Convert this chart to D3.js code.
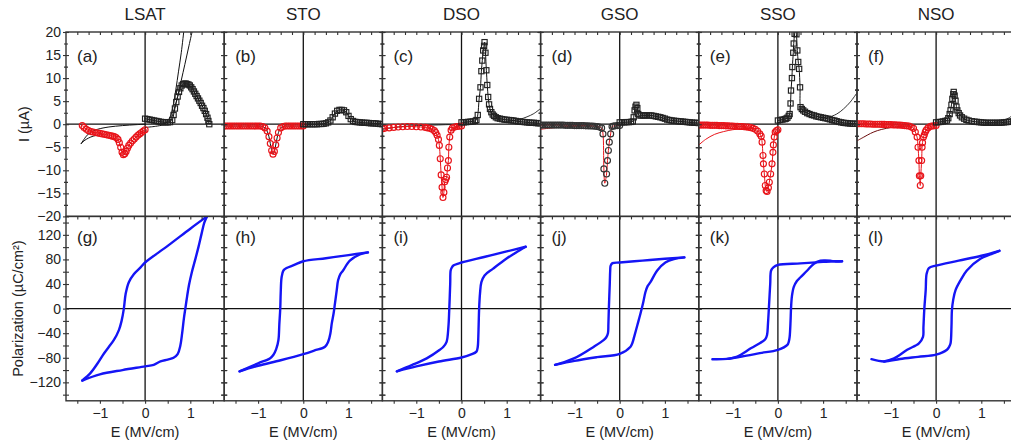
<!DOCTYPE html>
<html>
<head>
<meta charset="utf-8">
<script src="https://cdn.jsdelivr.net/npm/d3@7"></script>
<style>
  body { margin: 0; background: #fff; }
  svg { display: block; }
  text { font-family: "Liberation Sans", Arial, Helvetica, sans-serif; fill: #222; }
</style>
</head>
<body>
<svg id="fig" width="1011" height="448"></svg>
<script>
// ---------- labels and ticks ----------
const materials = ["LSAT", "STO", "DSO", "GSO", "SSO", "NSO"];
const currentPanelLabels = ["(a)", "(b)", "(c)", "(d)", "(e)", "(f)"];
const loopPanelLabels = ["(g)", "(h)", "(i)", "(j)", "(k)", "(l)"];
const eTickLabels = [-1, 0, 1];
const iTickLabels = [-20, -15, -10, -5, 0, 5, 10, 15, 20];
const pTickLabels = [-120, -80, -40, 0, 40, 80, 120];

// ---------- switching current, I (uA) vs E (MV/cm) ----------
// positive sweep (squares)
const lsatPos = [[0,1.2],[0.05,1.1],[0.1,1.0],[0.15,0.9],[0.2,0.8],[0.25,0.7],[0.3,0.6],[0.35,0.5],[0.4,0.45],[0.45,0.4],[0.5,0.4],[0.55,0.45],[0.6,0.9],[0.63,2.0],[0.66,3.4],[0.69,4.8],[0.72,6.0],[0.75,7.0],[0.78,7.8],[0.81,8.4],[0.84,8.7],[0.87,8.8],[0.9,8.8],[0.93,8.7],[0.96,8.6],[0.99,8.4],[1.02,8.0],[1.05,7.6],[1.08,7.1],[1.11,6.6],[1.14,6.1],[1.17,5.6],[1.2,5.1],[1.23,4.6],[1.26,4.0],[1.29,3.5],[1.32,2.9],[1.35,2.2],[1.38,1.4],[1.4,0.7],[1.42,0]];
const stoPos = [[0,0],[0.05,0],[0.1,0],[0.15,0],[0.2,0],[0.25,0],[0.3,0],[0.35,0.05],[0.4,0.05],[0.45,0.1],[0.5,0.2],[0.55,0.4],[0.6,0.8],[0.65,1.5],[0.7,2.3],[0.75,2.9],[0.8,3.1],[0.85,3.1],[0.9,3.0],[0.95,2.6],[1.0,1.8],[1.05,1.1],[1.1,0.7],[1.15,0.5],[1.2,0.45],[1.25,0.4],[1.3,0.35],[1.35,0.3],[1.4,0.3],[1.45,0.25],[1.5,0.2],[1.55,0.2],[1.6,0.15],[1.65,0.1],[1.7,0.05],[1.75,0]];
const dsoPos = [[0,0.4],[0.05,0.4],[0.1,0.45],[0.15,0.5],[0.2,0.55],[0.25,0.6],[0.3,0.7],[0.33,0.9],[0.36,2.0],[0.39,5.5],[0.42,8.0],[0.44,11.5],[0.46,13.8],[0.48,16.0],[0.5,17.0],[0.51,17.8],[0.53,15.5],[0.55,11.7],[0.57,8.5],[0.59,5.9],[0.61,4.3],[0.63,3.3],[0.66,2.6],[0.69,2.1],[0.72,1.8],[0.76,1.5],[0.8,1.3],[0.85,1.2],[0.9,1.1],[0.95,1.0],[1.0,0.95],[1.05,0.9],[1.1,0.85],[1.15,0.8],[1.2,0.7],[1.25,0.6],[1.3,0.55],[1.35,0.5],[1.4,0.45],[1.45,0.4],[1.5,0.35],[1.55,0.3],[1.6,0.3],[1.65,0.25],[1.7,0.2],[1.75,0.2]];
const gsoPos = [[0,0.4],[0.05,0.4],[0.1,0.4],[0.15,0.45],[0.2,0.45],[0.25,0.5],[0.29,0.6],[0.31,1.5],[0.33,3.0],[0.35,3.8],[0.37,4.2],[0.39,3.5],[0.41,2.2],[0.44,1.9],[0.48,1.9],[0.52,1.9],[0.56,1.9],[0.6,1.9],[0.65,1.9],[0.7,1.9],[0.75,1.8],[0.8,1.7],[0.85,1.6],[0.9,1.5],[0.95,1.35],[1.0,1.2],[1.05,1.0],[1.1,0.9],[1.15,0.8],[1.2,0.75],[1.25,0.7],[1.3,0.65],[1.35,0.6],[1.4,0.55],[1.45,0.5],[1.5,0.45],[1.55,0.4],[1.6,0.35],[1.65,0.3],[1.7,0.3],[1.75,0.25]];
const ssoPos = [[0,0.8],[0.05,0.9],[0.1,1.0],[0.15,1.1],[0.18,1.2],[0.21,1.4],[0.24,1.8],[0.26,2.2],[0.28,4.5],[0.29,7.3],[0.31,10.0],[0.32,12.4],[0.34,15.5],[0.35,17.5],[0.37,19.6],[0.39,21.0],[0.41,19.5],[0.43,16.0],[0.45,13.5],[0.47,12.0],[0.49,8.0],[0.5,3.7],[0.53,3.3],[0.56,3.0],[0.6,2.7],[0.65,2.4],[0.7,2.2],[0.75,2.0],[0.8,1.9],[0.85,1.7],[0.9,1.6],[0.95,1.5],[1.0,1.4],[1.05,1.3],[1.1,1.2],[1.15,1.05],[1.2,0.9],[1.25,0.8],[1.3,0.65],[1.35,0.5],[1.4,0.4],[1.45,0.3],[1.5,0.25],[1.55,0.2],[1.6,0.15],[1.65,0.1],[1.7,0.1],[1.75,0.1]];
const nsoPos = [[0,0.4],[0.05,0.45],[0.1,0.5],[0.15,0.6],[0.2,0.7],[0.24,0.8],[0.27,1.3],[0.3,2.2],[0.32,3.0],[0.34,4.2],[0.36,5.5],[0.38,6.5],[0.39,7.0],[0.41,6.2],[0.43,5.1],[0.45,3.8],[0.47,3.0],[0.5,2.4],[0.53,1.9],[0.57,1.5],[0.62,1.2],[0.67,0.95],[0.72,0.8],[0.79,0.65],[0.85,0.55],[0.9,0.5],[0.95,0.45],[1.0,0.4],[1.05,0.35],[1.1,0.3],[1.15,0.3],[1.2,0.3],[1.25,0.3],[1.3,0.3],[1.35,0.3],[1.4,0.3],[1.45,0.35],[1.5,0.4],[1.55,0.45],[1.6,0.5],[1.65,0.55],[1.7,0.6],[1.75,0.6]];

// negative sweep (circles)
const lsatNeg = [[0,-1.2],[-0.04,-1.5],[-0.08,-1.8],[-0.12,-2.1],[-0.16,-2.4],[-0.2,-2.8],[-0.24,-3.2],[-0.28,-3.6],[-0.32,-4.1],[-0.36,-4.6],[-0.39,-5.2],[-0.42,-5.9],[-0.45,-6.4],[-0.48,-6.6],[-0.51,-6.1],[-0.54,-5.0],[-0.57,-4.0],[-0.6,-3.3],[-0.64,-2.9],[-0.68,-2.7],[-0.72,-2.6],[-0.76,-2.5],[-0.8,-2.4],[-0.85,-2.3],[-0.9,-2.2],[-0.95,-2.1],[-1.0,-2.0],[-1.05,-1.9],[-1.1,-1.8],[-1.15,-1.7],[-1.2,-1.6],[-1.25,-1.4],[-1.3,-1.1],[-1.35,-0.7],[-1.39,-0.3]];
const stoNeg = [[0,-0.4],[-0.05,-0.4],[-0.1,-0.4],[-0.15,-0.4],[-0.2,-0.4],[-0.25,-0.4],[-0.3,-0.4],[-0.35,-0.4],[-0.4,-0.4],[-0.45,-0.5],[-0.5,-0.8],[-0.55,-1.8],[-0.58,-3.0],[-0.61,-4.5],[-0.64,-5.9],[-0.67,-6.5],[-0.7,-5.7],[-0.73,-4.2],[-0.76,-2.7],[-0.8,-1.5],[-0.85,-0.8],[-0.9,-0.5],[-0.95,-0.4],[-1.0,-0.4],[-1.05,-0.4],[-1.1,-0.4],[-1.15,-0.4],[-1.2,-0.4],[-1.25,-0.4],[-1.3,-0.4],[-1.35,-0.4],[-1.4,-0.4],[-1.45,-0.4],[-1.5,-0.4],[-1.55,-0.4],[-1.6,-0.4],[-1.65,-0.4],[-1.7,-0.4],[-1.75,-0.4]];
const dsoNeg = [[0,-0.4],[-0.05,-0.45],[-0.1,-0.5],[-0.15,-0.6],[-0.2,-0.8],[-0.23,-1.3],[-0.26,-2.8],[-0.28,-5.0],[-0.29,-7.9],[-0.31,-9.5],[-0.33,-11.5],[-0.35,-12.0],[-0.37,-12.5],[-0.39,-14.8],[-0.41,-15.9],[-0.43,-13.7],[-0.45,-11.0],[-0.47,-7.5],[-0.49,-4.6],[-0.51,-3.3],[-0.54,-2.4],[-0.57,-1.8],[-0.6,-1.4],[-0.65,-1.1],[-0.7,-0.9],[-0.75,-0.8],[-0.8,-0.7],[-0.9,-0.6],[-1.0,-0.55],[-1.1,-0.5],[-1.2,-0.5],[-1.3,-0.55],[-1.4,-0.6],[-1.5,-0.7],[-1.6,-0.8],[-1.7,-0.9],[-1.75,-1.0]];
const gsoNeg = [[0,-0.3],[-0.05,-0.3],[-0.1,-0.35],[-0.14,-0.4],[-0.17,-0.5],[-0.2,-2.1],[-0.23,-3.9],[-0.25,-5.7],[-0.27,-7.9],[-0.29,-10.8],[-0.33,-12.8],[-0.35,-9.7],[-0.37,-2.1],[-0.4,-0.8],[-0.45,-0.6],[-0.5,-0.5],[-0.55,-0.45],[-0.6,-0.4],[-0.65,-0.4],[-0.7,-0.35],[-0.75,-0.35],[-0.8,-0.3],[-0.85,-0.3],[-0.9,-0.3],[-0.95,-0.3],[-1.0,-0.3],[-1.05,-0.25],[-1.1,-0.25],[-1.15,-0.25],[-1.2,-0.25],[-1.25,-0.2],[-1.3,-0.2],[-1.35,-0.2],[-1.4,-0.2],[-1.45,-0.2],[-1.5,-0.2],[-1.55,-0.2],[-1.6,-0.2],[-1.65,-0.2],[-1.7,-0.2],[-1.75,-0.2]];
const ssoNeg = [[0,-1.2],[-0.03,-1.4],[-0.06,-1.7],[-0.08,-2.8],[-0.1,-4.5],[-0.11,-6.1],[-0.13,-8.6],[-0.16,-10.8],[-0.19,-12.6],[-0.21,-13.8],[-0.24,-14.6],[-0.26,-14.4],[-0.28,-13.3],[-0.3,-10.8],[-0.32,-8.6],[-0.33,-6.8],[-0.35,-3.9],[-0.37,-2.6],[-0.4,-2.1],[-0.45,-1.5],[-0.5,-1.1],[-0.55,-0.9],[-0.6,-0.75],[-0.65,-0.65],[-0.7,-0.6],[-0.75,-0.55],[-0.8,-0.5],[-0.85,-0.5],[-0.9,-0.45],[-0.95,-0.45],[-1.0,-0.4],[-1.05,-0.4],[-1.1,-0.35],[-1.15,-0.35],[-1.2,-0.3],[-1.25,-0.3],[-1.3,-0.3],[-1.35,-0.25],[-1.4,-0.25],[-1.45,-0.25],[-1.5,-0.25],[-1.55,-0.2],[-1.6,-0.2],[-1.65,-0.2],[-1.7,-0.2],[-1.75,-0.2]];
const nsoNeg = [[0,-0.3],[-0.05,-0.35],[-0.1,-0.4],[-0.13,-0.5],[-0.18,-0.8],[-0.22,-1.3],[-0.24,-1.7],[-0.26,-2.3],[-0.28,-2.8],[-0.3,-4.0],[-0.31,-5.0],[-0.32,-7.9],[-0.34,-11.2],[-0.35,-13.3],[-0.37,-11.2],[-0.38,-7.9],[-0.4,-5.0],[-0.42,-2.8],[-0.46,-1.7],[-0.5,-0.9],[-0.55,-0.6],[-0.6,-0.4],[-0.65,-0.35],[-0.7,-0.3],[-0.75,-0.25],[-0.8,-0.2],[-0.85,-0.2],[-0.9,-0.15],[-0.95,-0.15],[-1.0,-0.1],[-1.05,-0.1],[-1.1,-0.1],[-1.15,-0.05],[-1.2,-0.05],[-1.25,0],[-1.3,0],[-1.35,0],[-1.4,0],[-1.45,0.05],[-1.5,0.05],[-1.55,0.05],[-1.6,0.1],[-1.65,0.1],[-1.7,0.1],[-1.75,0.1]];

// thin leakage curves
const lsatFits = [
  [[0.3,0],[0.45,0.3],[0.55,1.5],[0.62,4],[0.68,7.5],[0.74,11.5],[0.8,15.5],[0.86,20.5]],
  [[0.4,0],[0.55,0.8],[0.65,3.5],[0.72,6],[0.8,9.5],[0.88,13],[0.97,17],[1.05,20.5]],
  [[0,0],[-0.2,-0.1],[-0.5,-0.3],[-0.8,-0.6],[-1.05,-1.1],[-1.2,-1.7],[-1.3,-2.6],[-1.42,-4.3]],
  [[-1.42,-4.3],[-1.35,-3.6],[-1.25,-3.0],[-1.15,-2.6],[-1.0,-2.3]],
  [[0,-0.7],[0.2,-0.5],[0.45,-0.1]]
];
const stoFits = [];
const dsoFits = [
  [[0.9,0.5],[1.1,0.7],[1.3,1.1],[1.45,1.6],[1.6,2.3],[1.75,3.4]],
  [[0,0],[-0.5,-0.15],[-1.0,-0.3],[-1.4,-0.6],[-1.75,-1.1]]
];
const gsoFits = [
  [[-1.75,-1.1],[-1.5,-0.8],[-1.2,-0.55],[-0.9,-0.4],[-0.6,-0.35]]
];
const ssoFits = [
  [[-1.76,-4.6],[-1.6,-3.3],[-1.4,-2.2],[-1.2,-1.6],[-1.0,-1.2],[-0.8,-1.0],[-0.6,-0.9],[-0.45,-0.9]],
  [[0.9,1.5],[1.1,1.5],[1.3,2.2],[1.45,3.3],[1.6,4.8],[1.75,6.8]]
];
const nsoFits = [
  [[-1.75,-3.6],[-1.6,-2.8],[-1.45,-2.0],[-1.3,-1.4],[-1.1,-0.9],[-0.9,-0.6],[-0.7,-0.45],[-0.5,-0.35]],
  [[1.1,0.3],[1.3,0.4],[1.45,0.7],[1.6,1.3],[1.75,2.4]]
];

// ---------- polarization loops, P (uC/cm2) vs E (MV/cm) ----------
const lsatUp = [[-1.39,-117],[-1.0,-107],[-0.5,-100],[0,-94],[0.19,-91.5],[0.34,-86],[0.5,-83],[0.63,-80],[0.72,-74],[0.78,-60],[0.82,-40],[0.86,-15],[0.89,0],[0.93,20],[0.97,38],[1.03,58],[1.11,80],[1.18,100],[1.25,122],[1.31,140],[1.37,150]];
const lsatDown = [[1.37,150],[1.0,130],[0.5,102],[0,75],[-0.1,67],[-0.25,56],[-0.36,43],[-0.43,24],[-0.47,0],[-0.52,-20],[-0.58,-35],[-0.69,-51],[-0.8,-62],[-0.91,-73],[-1.05,-89],[-1.21,-105],[-1.39,-117]];
const stoUp = [[-1.41,-102],[-1.0,-93],[-0.5,-84],[0,-74],[0.25,-68],[0.48,-62],[0.55,-54],[0.6,-40],[0.63,-24],[0.67,-8],[0.7,8],[0.74,30],[0.77,46],[0.82,56],[0.88,62],[1.03,78],[1.25,88],[1.43,91.5]];
const stoDown = [[1.43,91.5],[1.0,87],[0.5,82],[0,77],[-0.2,71],[-0.37,66],[-0.44,62],[-0.48,51],[-0.5,25],[-0.51,0],[-0.53,-25],[-0.55,-51],[-0.6,-66],[-0.66,-75],[-0.74,-81],[-1.0,-89],[-1.41,-102]];
const dsoUp = [[-1.43,-102],[-1.0,-94],[-0.5,-86],[0,-79.6],[0.2,-75],[0.33,-70],[0.36,-62],[0.37,-50],[0.38,-25],[0.39,0],[0.41,25],[0.44,43],[0.51,54],[0.7,65],[0.99,81],[1.2,91],[1.42,100.6]];
const dsoDown = [[1.42,100.6],[1.0,93],[0.5,84],[0,75],[-0.18,70],[-0.22,66],[-0.24,62],[-0.25,40],[-0.27,0],[-0.29,-30],[-0.33,-54],[-0.4,-62],[-0.48,-67],[-0.77,-81],[-1.1,-92],[-1.43,-102]];
const gsoUp = [[-1.43,-91.5],[-1.0,-85],[-0.5,-79],[0,-73.7],[0.24,-62],[0.28,-56],[0.32,-46],[0.39,-27],[0.46,-8],[0.52,10],[0.57,27],[0.62,37],[0.68,43],[0.83,62],[1.01,75],[1.2,80.7],[1.43,83.4]];
const gsoDown = [[1.43,83.4],[1.0,81],[0.5,78],[0,75],[-0.16,74],[-0.2,70],[-0.21,62],[-0.22,40],[-0.24,0],[-0.25,-25],[-0.26,-40],[-0.3,-47],[-0.35,-51],[-0.57,-62],[-1.0,-80.7],[-1.43,-91.5]];
const ssoUp = [[-1.45,-82.3],[-1.12,-81.8],[-0.8,-78],[-0.4,-72.5],[0,-67],[0.21,-59],[0.24,-54],[0.26,-46],[0.28,-20],[0.29,0],[0.31,20],[0.35,35],[0.42,45],[0.5,51],[0.65,62],[0.79,72.6],[0.94,78],[1.05,78.5],[1.16,78],[1.28,76.5],[1.42,77]];
const ssoDown = [[1.42,77],[1.25,77],[1.0,76],[0.5,73.5],[0,71],[-0.1,67],[-0.15,62],[-0.17,40],[-0.2,0],[-0.22,-25],[-0.24,-43],[-0.28,-50],[-0.35,-54],[-0.6,-64.6],[-0.9,-78],[-1.12,-81.8]];
const nsoUp = [[-1.43,-82.3],[-1.15,-86],[-0.8,-82],[-0.4,-78.5],[0,-75],[0.24,-67],[0.29,-62],[0.32,-56.5],[0.34,-30],[0.35,-3],[0.38,15],[0.43,30],[0.54,46],[0.68,62],[0.98,81],[1.2,88],[1.4,94]];
const nsoDown = [[1.4,94],[1.0,86],[0.5,78],[0,70],[-0.16,66],[-0.21,56.5],[-0.23,30],[-0.26,0],[-0.28,-30],[-0.29,-46],[-0.38,-56.5],[-0.64,-67],[-0.93,-81],[-1.15,-86]];

// ---------- panel assembly ----------
const RED = "#e8141a";
const panels = [
  { pos: lsatPos, neg: lsatNeg, fits: lsatFits, up: lsatUp, down: lsatDown, negMark: RED, negLine: RED, fitColors: ["#111","#111","#111","#111","#111"] },
  { pos: stoPos,  neg: stoNeg,  fits: stoFits,  up: stoUp,  down: stoDown,  negMark: RED, negLine: "#111", fitColors: [] },
  { pos: dsoPos,  neg: dsoNeg,  fits: dsoFits,  up: dsoUp,  down: dsoDown,  negMark: RED, negLine: RED, fitColors: ["#333","#222"] },
  { pos: gsoPos,  neg: gsoNeg,  fits: gsoFits,  up: gsoUp,  down: gsoDown,  negMark: "#333", negLine: RED, fitColors: [RED] },
  { pos: ssoPos,  neg: ssoNeg,  fits: ssoFits,  up: ssoUp,  down: ssoDown,  negMark: RED, negLine: RED, fitColors: [RED, "#333"] },
  { pos: nsoPos,  neg: nsoNeg,  fits: nsoFits,  up: nsoUp,  down: nsoDown,  negMark: RED, negLine: RED, fitColors: ["#6a0a0a", "#333"] }
];

const svg = d3.select("#fig");
const LEFT0 = 66, PW = 158.2, TOP = 32, RH = 184.4;
const ROW2 = TOP + RH, BOTTOM = ROW2 + RH;
const FONT = '"Liberation Sans", Arial, sans-serif';

const defs = svg.append("defs");

panels.forEach((p, i) => {
  const x0 = LEFT0 + i * PW;
  const x = d3.scaleLinear().domain([-1.75, 1.75]).range([x0, x0 + PW]);
  const yI = d3.scaleLinear().domain([-20, 20]).range([ROW2, TOP]);
  const yP = d3.scaleLinear().domain([-150, 150]).range([BOTTOM, ROW2]);

  defs.append("clipPath").attr("id", "clipI" + i)
    .append("rect").attr("x", x0).attr("y", TOP).attr("width", PW).attr("height", RH);
  defs.append("clipPath").attr("id", "clipP" + i)
    .append("rect").attr("x", x0).attr("y", ROW2).attr("width", PW).attr("height", RH);

  // zero lines
  svg.append("line").attr("x1", x(0)).attr("x2", x(0)).attr("y1", TOP).attr("y2", BOTTOM)
    .attr("stroke", "#111").attr("stroke-width", 1.3);
  svg.append("line").attr("x1", x0).attr("x2", x0 + PW).attr("y1", yI(0)).attr("y2", yI(0))
    .attr("stroke", "#111").attr("stroke-width", 1.3);
  svg.append("line").attr("x1", x0).attr("x2", x0 + PW).attr("y1", yP(0)).attr("y2", yP(0))
    .attr("stroke", "#111").attr("stroke-width", 1.1);

  // ---- current panel ----
  const gI = svg.append("g").attr("clip-path", `url(#clipI${i})`);
  const lineI = d3.line().x(d => x(d[0])).y(d => yI(d[1])).curve(d3.curveCatmullRom.alpha(0.5));

  p.fits.forEach((f, k) => {
    gI.append("path").attr("d", lineI(f)).attr("fill", "none")
      .attr("stroke", p.fitColors[k]).attr("stroke-width", 1);
  });
  gI.append("path").attr("d", lineI(p.neg)).attr("fill", "none")
    .attr("stroke", p.negLine).attr("stroke-width", 1);
  gI.append("path").attr("d", lineI(p.pos)).attr("fill", "none")
    .attr("stroke", "#111").attr("stroke-width", 1);

  gI.selectAll(null).data(p.neg).enter().append("circle")
    .attr("cx", d => x(d[0])).attr("cy", d => yI(d[1])).attr("r", 3)
    .attr("fill", "none").attr("stroke", p.negMark).attr("stroke-width", 1.15);
  gI.selectAll(null).data(p.pos).enter().append("rect")
    .attr("x", d => x(d[0]) - 2.6).attr("y", d => yI(d[1]) - 2.6)
    .attr("width", 5.2).attr("height", 5.2)
    .attr("fill", "none").attr("stroke", "#222").attr("stroke-width", 1.15);

  // ---- polarization panel ----
  const gP = svg.append("g").attr("clip-path", `url(#clipP${i})`);
  const lineP = d3.line().x(d => x(d[0])).y(d => yP(d[1])).curve(d3.curveCatmullRom.alpha(0.5));
  [p.up, p.down].forEach(branch => {
    gP.append("path").attr("d", lineP(branch)).attr("fill", "none")
      .attr("stroke", "#1515f5").attr("stroke-width", 2.4)
      .attr("stroke-linejoin", "round").attr("stroke-linecap", "round");
  });

  // ---- frames and ticks ----
  [[TOP, RH], [ROW2, RH]].forEach(([yt, h]) => {
    svg.append("rect").attr("x", x0).attr("y", yt).attr("width", PW).attr("height", h)
      .attr("fill", "none").attr("stroke", "#333").attr("stroke-width", 1.4);
  });

  const noLabel = g => g.call(s => s.select(".domain").remove()).call(s => s.selectAll("text").remove());
  const tickStyle = g => g.selectAll("line").attr("stroke", "#333").attr("stroke-width", 1.1);

  // vertical axes, ticks crossing the frame
  const iMajor = d3.range(-20, 20.1, 5), iMinor = d3.range(-17.5, 20, 5);
  const pMajor = d3.range(-140, 141, 20);
  [x0, x0 + PW].forEach(ax => {
    [d3.axisLeft, d3.axisRight].forEach(fn => {
      svg.append("g").attr("transform", `translate(${ax},0)`)
        .call(fn(yI).tickValues(iMajor).tickSize(3).tickFormat(""))
        .call(noLabel).call(tickStyle);
      svg.append("g").attr("transform", `translate(${ax},0)`)
        .call(fn(yI).tickValues(iMinor).tickSize(2).tickFormat(""))
        .call(noLabel).call(tickStyle);
      svg.append("g").attr("transform", `translate(${ax},0)`)
        .call(fn(yP).tickValues(pMajor).tickSize(3).tickFormat(""))
        .call(noLabel).call(tickStyle);
    });
  });

  // horizontal ticks: inner ticks on the top edges, outer ticks on the bottom edge
  const eTop = d3.range(-1.5, 1.51, 0.25);
  [TOP, ROW2].forEach(yt => {
    svg.append("g").attr("transform", `translate(0,${yt})`)
      .call(d3.axisBottom(x).tickValues(eTop).tickSize(3).tickFormat(""))
      .call(noLabel).call(tickStyle);
  });
  svg.append("g").attr("transform", `translate(0,${BOTTOM})`)
    .call(d3.axisBottom(x).tickValues(d3.range(-1.5, 1.51, 0.5)).tickSize(3).tickFormat(""))
    .call(noLabel).call(tickStyle);

  // bottom tick labels
  const bx = svg.append("g").attr("transform", `translate(0,${BOTTOM})`)
    .call(d3.axisBottom(x).tickValues(eTickLabels).tickSize(0).tickPadding(7).tickFormat(d3.format("d")));
  bx.select(".domain").remove();
  bx.selectAll("text").attr("font-size", 14).style("font-family", FONT).attr("fill", "#222");

  // axis title and column title
  svg.append("text").attr("x", x(0)).attr("y", 437).attr("text-anchor", "middle")
    .attr("font-size", 14.5).text("E (MV/cm)");
  svg.append("text").attr("x", x(0)).attr("y", 20).attr("text-anchor", "middle")
    .attr("font-size", 17).text(materials[i]);

  // panel letters
  svg.append("text").attr("x", x0 + 11).attr("y", 62).attr("font-size", 17).text(currentPanelLabels[i]);
  svg.append("text").attr("x", x0 + 11).attr("y", 243).attr("font-size", 17).text(loopPanelLabels[i]);

  // left tick labels on the first column only
  if (i === 0) {
    const la = svg.append("g").attr("transform", `translate(${x0},0)`)
      .call(d3.axisLeft(yI).tickValues(iTickLabels).tickSize(0).tickPadding(5));
    la.select(".domain").remove();
    la.selectAll("text").attr("font-size", 14).style("font-family", FONT).attr("fill", "#222");
    const lb = svg.append("g").attr("transform", `translate(${x0},0)`)
      .call(d3.axisLeft(yP).tickValues(pTickLabels).tickSize(0).tickPadding(5));
    lb.select(".domain").remove();
    lb.selectAll("text").attr("font-size", 14).style("font-family", FONT).attr("fill", "#222");
  }
});

// y axis titles
svg.append("text").attr("transform", `translate(24,${(TOP + ROW2) / 2}) rotate(-90)`)
  .attr("text-anchor", "middle").attr("dominant-baseline", "central")
  .attr("font-size", 14.5).text("I (µA)");
svg.append("text").attr("transform", `translate(18,${(ROW2 + BOTTOM) / 2}) rotate(-90)`)
  .attr("text-anchor", "middle").attr("dominant-baseline", "central")
  .attr("font-size", 14.5).text("Polarization (µC/cm²)");
</script>
</body>
</html>
